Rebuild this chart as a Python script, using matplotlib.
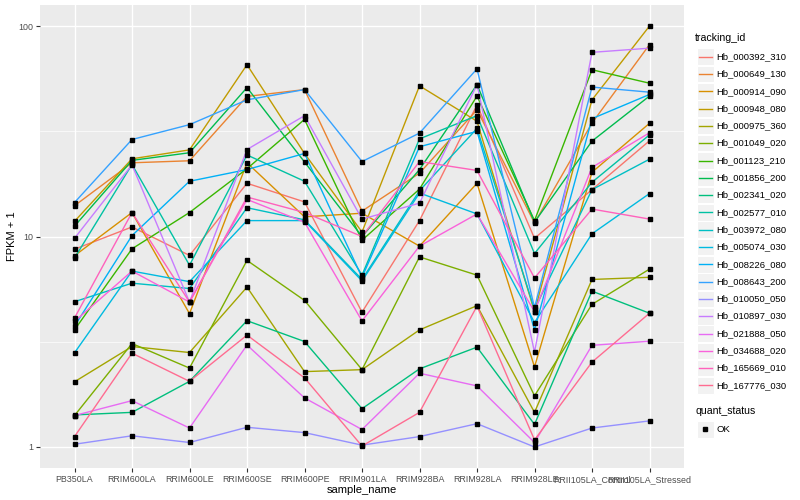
import numpy as np
import matplotlib
matplotlib.use("Agg")
import matplotlib.pyplot as plt
from matplotlib.patches import Rectangle
from matplotlib.lines import Line2D

plt.rcParams['font.family'] = ['Liberation Sans', 'DejaVu Sans']

samples = ["PB350LA", "RRIM600LA", "RRIM600LE", "RRIM600SE", "RRIM600PE",
           "RRIM901LA", "RRIM928BA", "RRIM928LA", "RRIM928LE",
           "RRII105LA_Control", "RRII105LA_Stressed"]

tracking_ids = ["Hb_000392_310", "Hb_000649_130", "Hb_000914_090", "Hb_000948_080",
                "Hb_000975_360", "Hb_001049_020", "Hb_001123_210", "Hb_001856_200",
                "Hb_002341_020", "Hb_002577_010", "Hb_003972_080", "Hb_005074_030",
                "Hb_008226_080", "Hb_008643_200", "Hb_010050_050", "Hb_010897_030",
                "Hb_021888_050", "Hb_034688_020", "Hb_165669_010", "Hb_167776_030"]

# ggplot hue palette, 20 levels
colors = ["#F8766D", "#EA8331", "#D89000", "#C09B00", "#A3A500", "#7CAE00", "#39B600",
          "#00BB4E", "#00BF7D", "#00C1A3", "#00BFC4", "#00BAE0", "#00B0F6", "#35A2FF",
          "#9590FF", "#C77CFF", "#E76BF3", "#FA62DB", "#FF62BC", "#FF6C91"]

# FPKM + 1 per sample
hb_000392_310 = [8.7, 11.1, 8.13, 17.9, 14.6, 4.37, 11.9, 42.2, 9.8, 16.7, 28.5]
hb_000649_130 = [14.0, 22.4, 22.9, 46.3, 49.9, 13.2, 20.0, 40.0, 11.6, 34.6, 81.6]
hb_000914_090 = [8.1, 13.0, 4.3, 22.4, 12.4, 12.9, 9.0, 17.9, 2.4, 20.2, 34.5]
hb_000948_080 = [11.8, 23.4, 25.8, 65.5, 24.8, 10.5, 52.0, 35.3, 4.4, 44.6, 100.0]
hb_000975_360 = [2.04, 3.0, 2.81, 5.75, 2.28, 2.33, 3.6, 4.69, 1.46, 6.25, 6.4]
hb_001049_020 = [1.41, 3.1, 2.37, 7.7, 4.97, 2.33, 8.0, 6.55, 1.75, 4.76, 7.0]
hb_001123_210 = [3.6, 8.74, 13.0, 21.0, 36.0, 9.6, 16.8, 46.5, 11.9, 62.0, 53.5]
hb_001856_200 = [11.2, 23.0, 25.0, 51.0, 22.6, 10.0, 20.8, 52.7, 11.7, 28.4, 46.5]
hb_002341_020 = [1.42, 1.46, 2.05, 3.98, 3.17, 1.52, 2.35, 2.98, 1.28, 5.5, 4.32]
hb_002577_010 = [7.9, 22.0, 7.3, 24.4, 18.3, 6.55, 29.1, 37.5, 8.3, 18.1, 30.4]
hb_003972_080 = [4.9, 6.0, 5.66, 13.7, 12.0, 6.25, 16.5, 32.6, 4.5, 16.7, 23.3]
hb_005074_030 = [2.8, 6.85, 6.1, 11.9, 11.9, 6.15, 16.1, 12.8, 3.9, 10.3, 16.0]
hb_008226_080 = [3.75, 10.1, 18.3, 20.8, 24.8, 6.4, 26.7, 31.6, 3.6, 36.3, 47.3]
hb_008643_200 = [14.5, 28.9, 34.0, 44.6, 49.9, 22.7, 31.0, 62.6, 4.6, 51.3, 48.5]
hb_010050_050 = [1.03, 1.13, 1.05, 1.24, 1.17, 1.02, 1.12, 1.29, 1.0, 1.23, 1.33]
hb_010897_030 = [9.8, 21.9, 4.88, 25.9, 37.5, 12.1, 14.4, 52.7, 2.82, 75.0, 78.5]
hb_021888_050 = [1.41, 1.66, 1.23, 3.05, 1.71, 1.21, 2.24, 1.95, 1.05, 3.04, 3.18]
hb_034688_020 = [3.95, 6.85, 4.88, 15.0, 11.7, 3.97, 9.0, 12.8, 4.4, 21.3, 31.1]
hb_165669_010 = [4.1, 13.0, 4.88, 15.4, 13.0, 10.0, 22.7, 20.6, 6.35, 13.5, 12.1]
hb_167776_030 = [1.12, 2.79, 2.05, 3.4, 2.13, 1.01, 1.46, 4.67, 1.08, 2.53, 4.32]

series = [hb_000392_310, hb_000649_130, hb_000914_090, hb_000948_080, hb_000975_360,
          hb_001049_020, hb_001123_210, hb_001856_200, hb_002341_020, hb_002577_010,
          hb_003972_080, hb_005074_030, hb_008226_080, hb_008643_200, hb_010050_050,
          hb_010897_030, hb_021888_050, hb_034688_020, hb_165669_010, hb_167776_030]

fig = plt.figure(figsize=(8, 5), dpi=100)
ax = fig.add_axes([40 / 800, 1 - 468 / 500, 644 / 800, 463 / 500])
ax.set_facecolor("#EBEBEB")
for s in ax.spines.values():
    s.set_visible(False)

x = np.arange(len(samples))
for vals, col in zip(series, colors):
    ax.plot(x, vals, color=col, lw=1.0, zorder=3)
for vals in series:
    ax.plot(x, vals, ls="none", marker="s", ms=2.6, color="black", zorder=4)

ax.set_yscale("log")
ax.set_ylim(10 ** -0.1, 10 ** 2.1)
ax.set_xlim(-0.6, len(samples) - 0.4)
ax.set_yticks([1, 10, 100])
ax.set_yticklabels(["1", "10", "100"])
ax.set_yticks([10 ** 0.5, 10 ** 1.5], minor=True)
ax.yaxis.set_minor_formatter(matplotlib.ticker.NullFormatter())
ax.set_xticks(x)
ax.set_xticklabels(samples)
ax.grid(which="major", color="white", lw=1.0, zorder=0)
ax.grid(which="minor", axis="y", color="white", lw=0.5, zorder=0)
ax.set_axisbelow(True)
ax.tick_params(which="major", length=3, width=0.8, color="#333333",
               labelsize=6.4, labelcolor="#4D4D4D", pad=2)
ax.tick_params(which="minor", length=0)
ax.set_xlabel("sample_name", fontsize=8, labelpad=1)
ax.set_ylabel("FPKM + 1", fontsize=8, labelpad=1)

# manual ggplot-style legend in pixel coordinates
lg = fig.add_axes([0, 0, 1, 1])
lg.set_xlim(0, 800)
lg.set_ylim(500, 0)
lg.axis("off")
lg.text(695, 38, "tracking_id", fontsize=7.6, va="center", ha="left")
y0, dy = 56.7, 17.3
for i, (name, col) in enumerate(zip(tracking_ids, colors)):
    yc = y0 + i * dy
    lg.add_patch(Rectangle((697, yc - 8.3), 16.6, 16.6, facecolor="#F2F2F2", edgecolor="white", lw=0.8))
    lg.add_line(Line2D([698.5, 711.5], [yc, yc], color=col, lw=1.0))
    lg.text(716.5, yc, name, fontsize=6.8, va="center", ha="left")
lg.text(695, 411, "quant_status", fontsize=7.6, va="center", ha="left")
lg.add_patch(Rectangle((697, 429.3 - 8.3), 16.6, 16.6, facecolor="#F2F2F2", edgecolor="white", lw=0.8))
lg.plot([705.3], [429.3], marker="s", ms=2.6, color="black")
lg.text(716.5, 429.3, "OK", fontsize=6.8, va="center", ha="left")

fig.savefig("out.png", dpi=100)
